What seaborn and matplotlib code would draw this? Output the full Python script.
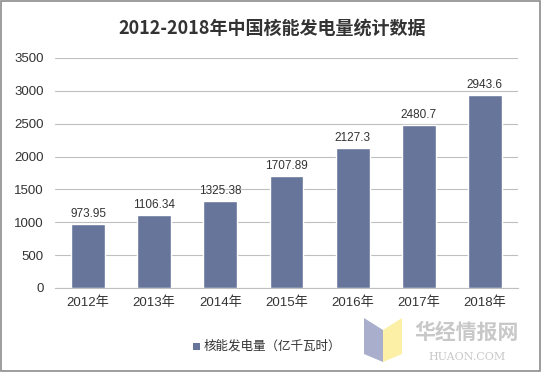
import matplotlib
matplotlib.use("Agg")
import matplotlib.pyplot as plt
import seaborn as sns
import pandas as pd
from matplotlib.patches import Rectangle, Polygon

years = ["2012年", "2013年", "2014年", "2015年", "2016年", "2017年", "2018年"]
values = [973.95, 1106.34, 1325.38, 1707.89, 2127.3, 2480.7, 2943.6]
labels = ["973.95", "1106.34", "1325.38", "1707.89", "2127.3", "2480.7", "2943.6"]
series_name = "核能发电量（亿千瓦时）"
title = "2012-2018年中国核能发电量统计数据"

sns.set_style("white")
plt.rcParams['font.family'] = ['Liberation Sans', 'Noto Sans CJK SC', 'DejaVu Sans']

df = pd.DataFrame({"year": years, "value": values})

fig = plt.figure(figsize=(5.42, 3.72), dpi=100)
ax = fig.add_axes([55/542, 84/372, 463/542, 230/372])
color = "#67759B"
sns.barplot(data=df, x="year", y="value", color=color, width=0.51, ax=ax, saturation=1)

ax.set_ylim(0, 3500)
ax.set_yticks(range(0, 3501, 500))
ax.yaxis.grid(True, color="#BFBFBF", linewidth=0.8)
ax.set_axisbelow(True)
for s in ["top", "right", "left"]:
    ax.spines[s].set_visible(False)
ax.spines["bottom"].set_color("#BFBFBF")
ax.set_xlabel("")
ax.set_ylabel("")
ax.tick_params(axis="both", length=0, labelsize=9.5, colors="#333333")
ax.tick_params(axis="y", pad=8)
ax.tick_params(axis="x", pad=6)

for i, (v, lab) in enumerate(zip(values, labels)):
    ax.text(i, v + 60, lab, ha="center", va="bottom", fontsize=8.5, color="#333333")

fig.text(272/542, 1 - 28/372, title, ha="center", va="center", fontsize=13,
         fontweight="bold", color="#333333", family=['Noto Sans CJK SC', 'DejaVu Sans'])

# legend
fig.patches.append(Rectangle((193/542, 1 - 350/372), 7/542, 7/372, transform=fig.transFigure,
                             facecolor=color, edgecolor="none"))
fig.text(204/542, 1 - 346/372, series_name, ha="left", va="center", fontsize=9, color="#333333",
         family=['Noto Sans CJK SC', 'DejaVu Sans'])

# border
fig.patches.append(Rectangle((0.002, 0.003), 0.994, 0.994, transform=fig.transFigure,
                             facecolor="none", edgecolor="#8C8C8C", linewidth=1.2))

# watermark
fig.patches.append(Polygon([(364/542, 1-318/372), (383/542, 1-330/372), (383/542, 1-362/372), (364/542, 1-354/372)],
                           closed=True, transform=fig.transFigure, facecolor="#A8AECB", edgecolor="none"))
fig.patches.append(Polygon([(383/542, 1-330/372), (402/542, 1-318/372), (402/542, 1-354/372), (383/542, 1-362/372)],
                           closed=True, transform=fig.transFigure, facecolor="#FCEFA6", edgecolor="none"))
fig.text(467/542, 1 - 332/372, "华经情报网", ha="center", va="center", fontsize=15,
         color="#C8C8C8", fontweight="bold", family=['Noto Sans CJK SC'])
fig.text(467/542, 1 - 357/372, "HUAON.COM", ha="center", va="center", fontsize=8,
         color="#C8C8C8", family=["DejaVu Serif"])

fig.savefig("out.png", dpi=100)
